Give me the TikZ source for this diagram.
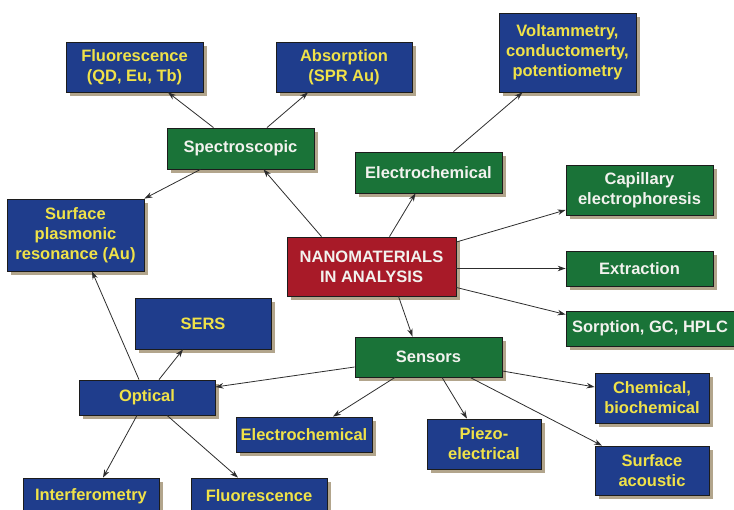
\documentclass[tikz,border=0pt]{standalone}
\usepackage{fontspec}
\setmainfont{Liberation Sans}
\usetikzlibrary{arrows.meta,shadows}

\definecolor{boxblue}{RGB}{31,61,140}
\definecolor{boxgreen}{RGB}{26,115,56}
\definecolor{boxred}{RGB}{168,26,40}
\definecolor{textyellow}{RGB}{240,226,72}
\definecolor{textwhite}{RGB}{242,242,238}
\definecolor{shadowtan}{RGB}{178,165,140}
\definecolor{edgedark}{RGB}{28,28,28}
\definecolor{linkgray}{RGB}{45,45,45}

\tikzset{
  box/.style={rectangle, draw=edgedark, line width=0.8pt, align=center,
    inner sep=0pt, font=\bfseries\fontsize{16.5}{20}\selectfont,
    general shadow={fill=shadowtan, shadow xshift=4pt, shadow yshift=-4pt}},
  bluebox/.style={box, fill=boxblue, text=textyellow},
  greenbox/.style={box, fill=boxgreen, text=textwhite},
  redbox/.style={box, fill=boxred, text=textwhite},
  sz/.style 2 args={minimum width=#1pt, minimum height=#2pt},
  link/.style={draw=linkgray, line width=0.8pt,
    -{Stealth[length=8pt,width=5.5pt]}}
}

\begin{document}
\begin{tikzpicture}[x=1pt,y=-1pt]
\useasboundingbox (0,0) rectangle (734,510);
\clip (0,0) rectangle (734,510);

% spectroscopic branch
\node[bluebox, sz={137}{50}] (fluoA) at (134.5,67) {Fluorescence\\(QD, Eu, Tb)};
\node[bluebox, sz={136}{50}] (absorb) at (344,67) {Absorption\\(SPR Au)};
\node[greenbox, sz={147}{41}] (spec) at (240.5,148.5) {Spectroscopic};
\node[bluebox, sz={137}{72}] (spr) at (75.5,235) {Surface\\plasmonic\\resonance (Au)};

% electrochemical branch
\node[bluebox, sz={137}{79}] (volt) at (567.5,52.5) {Voltammetry,\\conductomerty,\\potentiometry};
\node[greenbox, sz={147}{41}] (echemG) at (428.5,172.5) {Electrochemical};

% centre and separation methods
\node[redbox, sz={169}{59}] (nano) at (371.5,266.5) {NANOMATERIALS\\IN ANALYSIS};
\node[greenbox, sz={147}{50}] (capil) at (639.5,190) {Capillary\\electrophoresis};
\node[greenbox, sz={147}{35}] (extract) at (639.5,268.5) {Extraction};
\node[greenbox, sz={168}{35}] (sorp) at (650,328.5) {Sorption, GC, HPLC};

% sensors branch
\node[greenbox, sz={147}{40}] (sensors) at (428.5,357) {Sensors};
\node[bluebox, sz={136}{51}] (sers) at (203,323.5) {SERS};
\node[bluebox, sz={136}{35}] (optical) at (147,397.5) {Optical};
\node[bluebox, sz={136}{35}] (echemB) at (304,434.5) {Electrochemical};
\node[bluebox, sz={114}{50}] (piezo) at (484,444) {Piezo-\\electrical};
\node[bluebox, sz={114}{50}] (chem) at (652,398) {Chemical,\\biochemical};
\node[bluebox, sz={114}{49}] (surfac) at (652,470.5) {Surface\\acoustic};
\node[bluebox, sz={136}{36}] (interf) at (91,496) {Interferometry};
\node[bluebox, sz={136}{36}] (fluoB) at (259,496) {Fluorescence};

% connectors
\draw[link] ([xshift=-27pt]spec.north) -- ([xshift=33.5pt]fluoA.south);
\draw[link] ([xshift=26.5pt]spec.north) -- ([xshift=-36pt]absorb.south);
\draw[link] ([xshift=-40pt]spec.south) -- (spr.north east);
\draw[link] ([xshift=-50pt]nano.north) -- ([xshift=23pt]spec.south);
\draw[link] ([xshift=18pt]nano.north) -- ([xshift=-13pt]echemG.south);
\draw[link] ([xshift=25pt]echemG.north) -- ([xshift=-45pt]volt.south);
\draw[link] ([yshift=24.5pt]nano.east) -- ([yshift=-20pt]capil.west);
\draw[link] (nano.east |- extract.west) -- (extract.west);
\draw[link] ([yshift=-21pt]nano.east) -- ([yshift=14pt]sorp.west);
\draw[link] ([xshift=27pt]nano.south) -- ([xshift=-16pt]sensors.north);
\draw[link] ([yshift=-10pt]sensors.west) -- ([yshift=10.5pt]optical.east);
\draw[link] ([xshift=-33.5pt]sensors.south) -- ([xshift=29pt]echemB.north);
\draw[link] ([xshift=13.5pt]sensors.south) -- ([xshift=-17pt]piezo.north);
\draw[link] ([yshift=-14pt]sensors.east) -- ([yshift=11pt]chem.west);
\draw[link] ([xshift=41.5pt]sensors.south) -- ([xshift=-50pt]surfac.north);
\draw[link] ([xshift=-8pt]optical.north) -- ([xshift=16.5pt]spr.south);
\draw[link] ([xshift=12pt]optical.north) -- ([xshift=-20pt]sers.south);
\draw[link] ([xshift=-10pt]optical.south) -- ([xshift=12pt]interf.north);
\draw[link] ([xshift=20pt]optical.south) -- ([xshift=-21pt]fluoB.north);
\end{tikzpicture}
\end{document}
